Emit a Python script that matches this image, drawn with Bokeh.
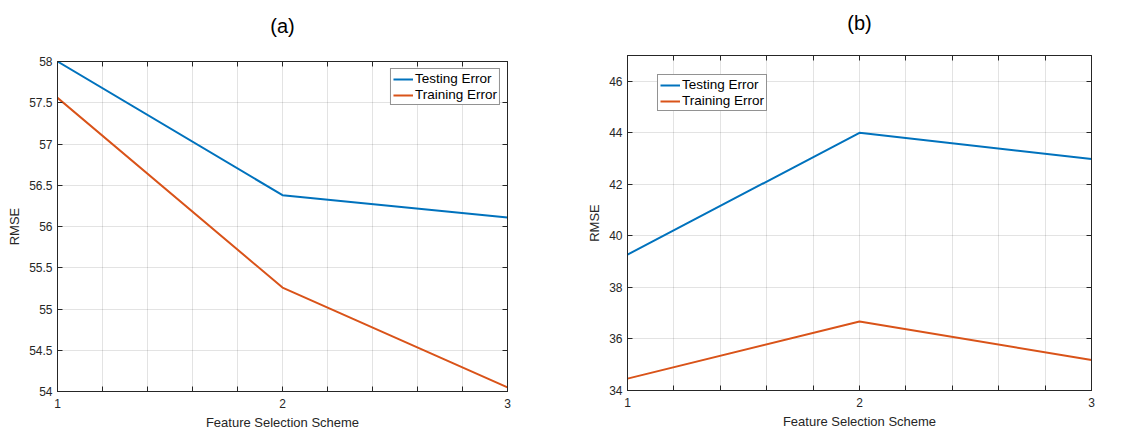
from bokeh.plotting import figure
from bokeh.models import (LinearAxis, FixedTicker, PrintfTickFormatter, Legend,
                          LegendItem, Range1d, CustomLabelingPolicy)
from bokeh.layouts import row, column
from bokeh.embed import file_html
from bokeh.resources import INLINE

# ---- data ----
schemes = [1, 2, 3]
a_testing = [58.0, 56.38, 56.11]
a_training = [57.56, 55.26, 54.05]
b_testing = [39.27, 44.0, 42.98]
b_training = [34.46, 36.68, 35.18]

x_major = [1, 2, 3]
x_minor = [1.2, 1.4, 1.6, 1.8, 2.2, 2.4, 2.6, 2.8]
a_yticks = [54, 54.5, 55, 55.5, 56, 56.5, 57, 57.5, 58]
b_yticks = [34, 36, 38, 40, 42, 44, 46]

BLUE = "#0072BD"
ORANGE = "#D95319"
DARK = "#262626"
FONT = "Liberation Sans"


def style_axis(ax, labels=True):
    ax.axis_line_color = DARK
    ax.major_tick_line_color = DARK
    ax.minor_tick_line_color = DARK
    ax.major_tick_in = 5
    ax.major_tick_out = 0
    ax.minor_tick_in = 5
    ax.minor_tick_out = 0
    ax.major_label_text_font = FONT
    ax.major_label_text_color = DARK
    ax.major_label_text_font_size = "12px"
    ax.axis_label_text_font = FONT
    ax.axis_label_text_font_style = "normal"
    ax.axis_label_text_color = DARK
    ax.axis_label_text_font_size = "13px"
    if not labels:
        ax.major_label_policy = CustomLabelingPolicy(
            code="const s = Array.from(indices); for (const i of s) { indices.unset(i) } return indices")
        ax.major_label_standoff = 0


def make(title, test, train, y0, y1, yticks, fw, fh, bl, br, bt, bb,
         legend_loc, margin, title_standoff):
    p = figure(output_backend="svg", toolbar_location=None,
               frame_width=fw, frame_height=fh,
               x_range=Range1d(1, 3), y_range=Range1d(y0, y1),
               min_border_left=bl, min_border_right=br,
               min_border_top=bt, min_border_bottom=bb)
    p.title.text = title
    p.title.align = "center"
    p.title.text_font = FONT
    p.title.text_font_size = "20px"
    p.title.text_font_style = "normal"
    p.title.text_color = "black"
    p.title.standoff = title_standoff
    p.background_fill_color = "white"
    p.border_fill_color = "white"
    p.outline_line_color = DARK

    xt = FixedTicker(ticks=x_major, minor_ticks=x_minor)
    yt = FixedTicker(ticks=yticks)
    p.xaxis.ticker = xt
    p.yaxis.ticker = yt
    p.yaxis.formatter = PrintfTickFormatter(format="%g")
    p.xaxis.axis_label = "Feature Selection Scheme"
    p.yaxis.axis_label = "RMSE"
    for ax in p.xaxis:
        style_axis(ax)
        ax.major_label_standoff = 7
        ax.axis_label_standoff = 4
    for ax in p.yaxis:
        style_axis(ax)
        ax.major_label_standoff = 5
        ax.axis_label_standoff = 4

    top = LinearAxis(ticker=xt)
    style_axis(top, labels=False)
    p.add_layout(top, "above")
    right = LinearAxis(ticker=yt)
    style_axis(right, labels=False)
    p.add_layout(right, "right")

    p.xgrid.ticker = xt
    p.ygrid.ticker = yt
    p.xgrid.grid_line_color = DARK
    p.xgrid.grid_line_alpha = 0.13
    p.xgrid.minor_grid_line_color = DARK
    p.xgrid.minor_grid_line_alpha = 0.13
    p.ygrid.grid_line_color = DARK
    p.ygrid.grid_line_alpha = 0.13

    r1 = p.line(schemes, test, line_color=BLUE, line_width=2)
    r2 = p.line(schemes, train, line_color=ORANGE, line_width=2)

    leg = Legend(items=[LegendItem(label="Testing Error", renderers=[r1]),
                        LegendItem(label="Training Error", renderers=[r2])],
                 location=legend_loc)
    leg.margin = margin
    leg.border_line_color = DARK
    leg.border_line_width = 1
    leg.background_fill_alpha = 1
    leg.label_text_font = FONT
    leg.label_text_font_size = "13.5px"
    leg.label_text_color = "black"
    leg.glyph_width = 20
    leg.glyph_height = 12
    leg.label_height = 12
    leg.label_standoff = 2
    leg.padding = 2
    leg.spacing = 1
    p.add_layout(leg)
    return p


pa = make("(a)", a_testing, a_training, 54, 58, a_yticks,
          450, 330, 57, 63, 61, 41, "top_right", 7, 25)
pb = make("(b)", b_testing, b_training, 34, 47, b_yticks,
          464, 335, 57, 49, 55, 42, (30, 279), 0, 19)

layout = row(column(pa), column(pb))
open("out.html", "w").write(file_html(layout, INLINE))
